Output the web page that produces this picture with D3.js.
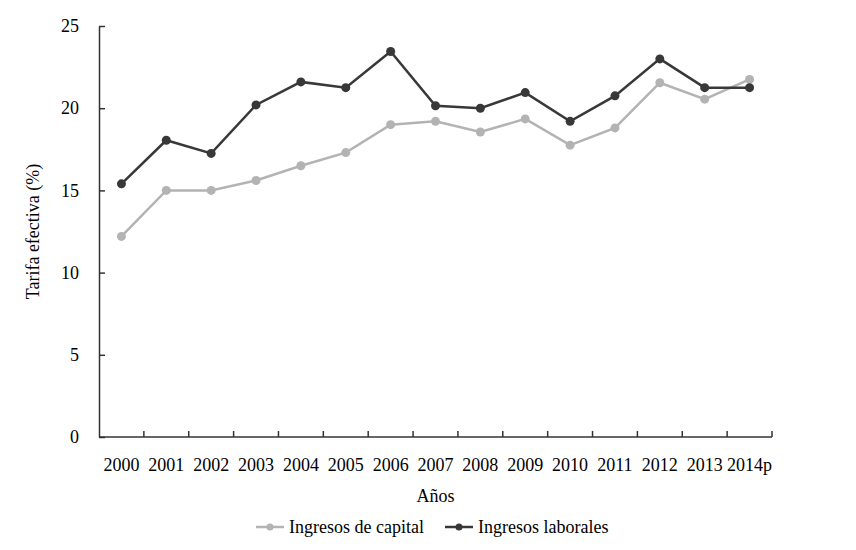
<!DOCTYPE html>
<html><head><meta charset="utf-8">
<script src="https://cdn.jsdelivr.net/npm/d3@7"></script>
<style>body{margin:0;background:#fff}svg{display:block}</style>
</head><body>
<svg id="chart" width="856" height="550"></svg>
<script>
const years = ["2000","2001","2002","2003","2004","2005","2006","2007","2008","2009","2010","2011","2012","2013","2014p"];
const capital = [12.2,15.0,15.0,15.6,16.5,17.3,19.0,19.2,18.55,19.35,17.75,18.8,21.55,20.55,21.75];
const laborales = [15.4,18.05,17.25,20.2,21.6,21.25,23.45,20.15,20.0,20.95,19.2,20.75,23.0,21.25,21.25];
const yTicks = [0,5,10,15,20,25];
const seriesNames = ["Ingresos de capital","Ingresos laborales"];
const seriesColors = ["#b3b3b3","#383838"];

(function(){
const svg = d3.select("#chart");
const font = "'Liberation Serif','Times New Roman',serif";
const mL = 99, mR = 772, mT = 26, mB = 437;

const x = d3.scaleBand().domain(years).range([mL, mR]);
const y = d3.scaleLinear().domain([0,25]).range([mB, mT]);

// y axis
const ya = svg.append("g").attr("transform",`translate(${mL},0)`)
  .call(d3.axisLeft(y).tickValues(yTicks).tickSizeInner(-6).tickSizeOuter(0).tickPadding(20));
ya.select(".domain").attr("stroke","#333").attr("stroke-width",1.5);
ya.selectAll(".tick line").attr("stroke","#333").attr("stroke-width",1.5);
ya.selectAll("text").attr("font-family",font).attr("font-size",18).attr("fill","#000");

// x axis with ticks at band boundaries
const xa = svg.append("g").attr("transform",`translate(0,${mB})`);
xa.append("line").attr("x1",mL).attr("x2",mR).attr("y1",0).attr("y2",0)
  .attr("stroke","#333").attr("stroke-width",1.5);
years.forEach((d,i)=>{
  const bx = x(d) + x.bandwidth();
  xa.append("line").attr("x1",bx).attr("x2",bx).attr("y1",0).attr("y2",-6)
    .attr("stroke","#333").attr("stroke-width",1.5);
  xa.append("text").attr("x",x(d)+x.bandwidth()/2).attr("y",34)
    .attr("text-anchor","middle").attr("font-family",font).attr("font-size",18).attr("fill","#000").text(d);
});

// axis titles
svg.append("text").attr("x",(mL+mR)/2).attr("y",502).attr("text-anchor","middle")
  .attr("font-family",font).attr("font-size",18).text("Años");
svg.append("text").attr("transform",`translate(39,${(mT+mB)/2}) rotate(-90)`).attr("text-anchor","middle")
  .attr("font-family",font).attr("font-size",18).text("Tarifa efectiva (%)");

// lines
const cx = d => x(d) + x.bandwidth()/2;
[capital, laborales].forEach((vals,si)=>{
  const data = years.map((d,i)=>({k:d,v:vals[i]}));
  svg.append("path").datum(data)
    .attr("d", d3.line().x(p=>cx(p.k)).y(p=>y(p.v)))
    .attr("fill","none").attr("stroke",seriesColors[si]).attr("stroke-width",2.5);
  svg.selectAll(null).data(data).enter().append("circle")
    .attr("cx",p=>cx(p.k)).attr("cy",p=>y(p.v)).attr("r",4.5).attr("fill",seriesColors[si]);
});

// legend
const legendX = [256, 445];
seriesNames.forEach((n,i)=>{
  const g = svg.append("g").attr("transform",`translate(${legendX[i]},527)`);
  g.append("line").attr("x1",0).attr("x2",28).attr("stroke",seriesColors[i]).attr("stroke-width",2.5);
  g.append("circle").attr("cx",14).attr("cy",0).attr("r",3.5).attr("fill",seriesColors[i]);
  g.append("text").attr("x",33).attr("y",6).attr("font-family",font).attr("font-size",18).text(n);
});
})();
</script>
</body></html>
